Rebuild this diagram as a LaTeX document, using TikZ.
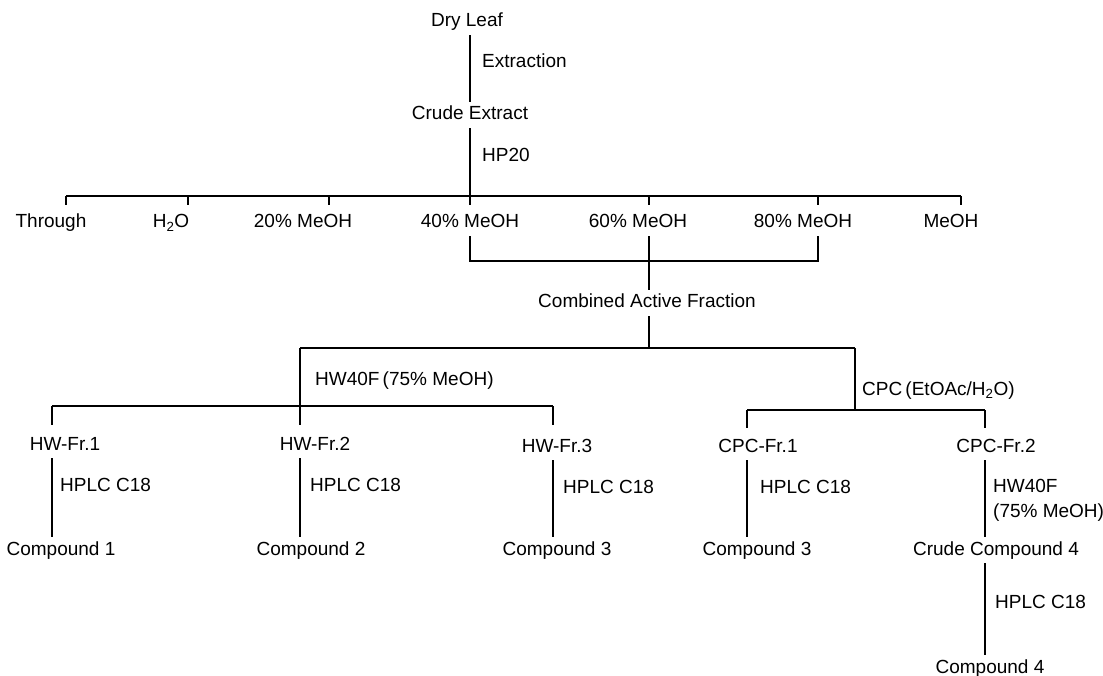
\documentclass[tikz,border=0pt]{standalone}
\usepackage{fontspec}
\setmainfont{Liberation Sans}
\begin{document}
\begin{tikzpicture}[x=1pt,y=-1pt,
  lbl/.style={inner xsep=0pt, inner ysep=4pt, text height=14pt, text depth=4pt, font=\fontsize{19}{22}\selectfont},
  note/.style={lbl, anchor=west},
  conn/.style={line width=1.5pt}]
\useasboundingbox (0,0) rectangle (1103,676);
% --- text nodes ---
\node[lbl] (dry)   at (467,22)  {Dry Leaf};
\node[note] (ext)  at (482,63)  {Extraction};
\node[lbl] (crude) at (470,115) {Crude Extract};
\node[note] (hp)   at (482,157) {HP20};
\node[lbl] (thr) at (51,223)  {Through};
\node[lbl] (h2o) at (171,223) {H\textsubscript{2}O};
\node[lbl] (m20) at (303,223) {20\% MeOH};
\node[lbl] (m40) at (470,223) {40\% MeOH};
\node[lbl] (m60) at (638,223) {60\% MeOH};
\node[lbl] (m80) at (803,223) {80\% MeOH};
\node[lbl] (meoh) at (951,223) {MeOH};
\node[lbl] (caf) at (647,303) {Combined Active Fraction};
\node[note] (hwl) at (315,380) {HW40F\,(75\% MeOH)};
\node[note] (cpcl) at (862,390) {CPC\,(EtOAc/H\textsubscript{2}O)};
\node[lbl] (hw1) at (65,445)  {HW-Fr.1};
\node[lbl] (hw2) at (315,445) {HW-Fr.2};
\node[lbl] (hw3) at (557,447) {HW-Fr.3};
\node[lbl] (cpc1) at (758,447) {CPC-Fr.1};
\node[lbl] (cpc2) at (996,447) {CPC-Fr.2};
\node[note] (hp1) at (60,486)  {HPLC C18};
\node[note] (hp2) at (310,486) {HPLC C18};
\node[note] (hp3) at (563,488) {HPLC C18};
\node[note] (hp4) at (760,488) {HPLC C18};
\node[anchor=west, align=left, inner sep=0pt, font=\fontsize{19}{25}\selectfont] (hwl2) at (993,500) {HW40F\\(75\% MeOH)};
\node[lbl] (c1) at (61,550)  {Compound 1};
\node[lbl] (c2) at (311,550) {Compound 2};
\node[lbl] (c3a) at (557,550) {Compound 3};
\node[lbl] (c3b) at (757,550) {Compound 3};
\node[lbl] (cr4) at (996,550) {Crude Compound 4};
\node[note] (hp5) at (995,603) {HPLC C18};
\node[lbl] (c4) at (990,668) {Compound 4};
% --- coordinates ---
\coordinate (b1L) at (66,196);  \coordinate (b1R) at (961,196);
\coordinate (tT) at (66,205);   \coordinate (tH) at (188,205);
\coordinate (t20) at (329,205); \coordinate (t40) at (470,205);
\coordinate (t60) at (649,205); \coordinate (t80) at (818,205);
\coordinate (tM) at (961,205);
\coordinate (k2) at (0,261);
\coordinate (b3L) at (300,348); \coordinate (b3R) at (855,348);
\coordinate (b4L) at (52,406);  \coordinate (b4R) at (553,406);
\coordinate (s1) at (52,425);   \coordinate (s2) at (300,425);
\coordinate (s3) at (553,425);
\coordinate (b5L) at (747,410); \coordinate (b5R) at (985,410);
\coordinate (s4) at (747,428);  \coordinate (s5) at (985,428);
% --- connectors ---
\draw[conn] (dry.south -| crude) -- (crude.north);
\draw[conn] (crude.south) -- (crude.south |- b1L);
\draw[conn] (b1L) -- (b1R);
\foreach \t in {tT,tH,t20,t40,t60,t80,tM} \draw[conn] (\t |- b1L) -- (\t);
\draw[conn] (m40.south -| t40) -- (t40 |- k2) -- (t80 |- k2) -- (m80.south -| t80);
\draw[conn] (m60.south -| t60) -- (caf.north -| t60);
\draw[conn] (caf.south -| t60) -- (t60 |- b3L);
\draw[conn] (b3L) -- (b3R);
\draw[conn] (b3L) -- (s2);
\draw[conn] (b4L) -- (b4R);
\draw[conn] (b4L) -- (s1);
\draw[conn] (b4R) -- (s3);
\draw[conn] (b3R) -- (b3R |- b5L);
\draw[conn] (b5L) -- (b5R);
\draw[conn] (b5L) -- (s4);
\draw[conn] (b5R) -- (s5);
\draw[conn] (hw1.south -| s1) -- (c1.north -| s1);
\draw[conn] (hw2.south -| s2) -- (c2.north -| s2);
\draw[conn] (hw3.south -| s3) -- (c3a.north -| s3);
\draw[conn] (cpc1.south -| s4) -- (c3b.north -| s4);
\draw[conn] (cpc2.south -| s5) -- (cr4.north -| s5);
\draw[conn] (cr4.south -| s5) -- (c4.north -| s5);
\end{tikzpicture}
\end{document}
